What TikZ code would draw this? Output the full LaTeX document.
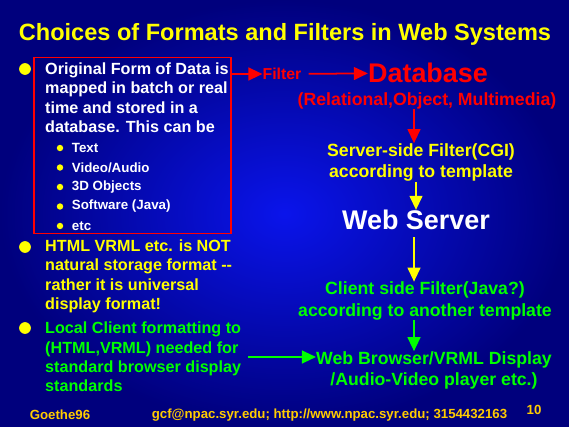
\documentclass[tikz,border=0pt]{standalone}
\usepackage{fontspec}
\setmainfont{Liberation Sans}
\usetikzlibrary{positioning,arrows.meta}
\definecolor{bgdark}{RGB}{0,0,125}
\definecolor{bgbright}{RGB}{10,20,235}
\definecolor{slideyellow}{RGB}{255,255,0}
\definecolor{slidered}{RGB}{255,0,0}
\definecolor{slidegreen}{RGB}{0,255,0}
\definecolor{footeryellow}{RGB}{255,204,0}
\tikzset{
  bigdot/.style={
    shape = circle,
    fill = slideyellow,
    inner sep = 0pt,
    minimum size = 10pt
  },
  subdot/.style={
    shape = circle,
    fill = slideyellow,
    inner sep = 0pt,
    minimum size = 5.5pt
  },
  bodytext/.style={
    anchor = west,
    align = left,
    inner sep = 0pt,
    font = \bfseries\fontsize{13.8}{16.6}\selectfont
  },
  subtext/.style={
    anchor = west,
    inner sep = 0pt,
    text = white,
    font = \bfseries\fontsize{11.4}{13}\selectfont
  },
  flowtext/.style={
    align = center,
    inner sep = 0pt,
    font = \bfseries\fontsize{15.1}{18.5}\selectfont
  },
  bigtext/.style={
    inner sep = 0pt,
    font = \bfseries\fontsize{23}{26}\selectfont
  },
  foottext/.style={
    inner sep = 0pt,
    text = footeryellow,
    font = \bfseries\fontsize{11.3}{13}\selectfont
  },
  flowarrow/.style={
    line width = 1.5pt,
    -{Triangle[length=12pt,width=11pt]}
  }
}
\begin{document}
\begin{tikzpicture}[x=0.03cm,y=-0.03cm]
        \shade[inner color=bgbright, outer color=bgdark] (0,0) rectangle (569,427);
        \useasboundingbox (0,0) rectangle (569,427);
        % title
        \node[inner sep=0pt, text=slideyellow, font=\bfseries\fontsize{20.1}{24}\selectfont] (title) at (285,34.5) {Choices of Formats and Filters in Web Systems};
        % left column
        \node[bigdot] (b1) at (25,69) {};
        \node[bodytext, text=white] (origtext) at (45,97.5) {Original Form of Data is\\mapped in batch or real\\time and stored in a\\database. This can be};
        \foreach \i/\t in {0/Text,1/{Video/Audio},2/3D Objects,3/Software (Java),4/etc}{
                \node[subdot] (d\i) at (60,148+19.5*\i) {};
                \node[subtext, right=7pt of d\i] (s\i) {\t};
            }
        \node[draw=slidered, line width=1.6pt, inner sep=0pt, minimum width=197*0.03cm, minimum height=176*0.03cm] (databox) at (132.5,145.5) {};
        \node[bigdot] (b2) at (25,247) {};
        \node[bodytext, text=slideyellow] (htmltext) at (45,276.5) {HTML VRML etc. is NOT\\natural storage format -{}-\\rather it is universal\\display format!};
        \node[bigdot] (b3) at (25,328) {};
        \node[bodytext, text=slidegreen] (localtext) at (45,357) {Local Client formatting to\\(HTML,VRML) needed for\\standard browser display\\standards};
        % flow on the right
        \node[inner sep=0pt, text=slidered, font=\bfseries\fontsize{13.5}{16}\selectfont] (filter) at (282,74) {Filter};
        \node[bigtext, text=slidered] (database) at (428,73) {Database};
        \node[flowtext, text=slidered] (dbkinds) at (427,101) {(Relational,Object, Multimedia)};
        \node[flowtext, text=slideyellow] (serverfilter) at (421,162.5) {Server-side Filter(CGI)\\according to template};
        \node[bigtext, text=white] (webserver) at (416,220) {Web Server};
        \node[flowtext, text=slidegreen] (clientfilter) at (425,301) {Client side Filter(Java?)\\according to another template};
        \node[flowtext, text=slidegreen] (browser) at (434,370.5) {Web Browser/VRML Display\\/Audio-Video player etc.)};
        \coordinate (boxout) at (databox.east |- filter);
        \coordinate (localout) at (248,357);
        \draw[flowarrow, slidered] (boxout) -- (filter);
        \draw[flowarrow, slidered, shorten <=6pt] (filter) -- (database);
        \draw[flowarrow, slidered] (dbkinds.south -| 414,0) -- (serverfilter.north -| 414,0);
        \draw[flowarrow, slideyellow] (serverfilter.south -| 416,0) -- (webserver.north -| 416,0);
        \draw[flowarrow, slideyellow, shorten <=6pt] (webserver.south -| 414,0) -- (clientfilter.north -| 414,0);
        \draw[flowarrow, slidegreen] (clientfilter.south -| 414,0) -- (browser.north -| 414,0);
        \draw[flowarrow, slidegreen] (localout) -- (browser.west |- localout);
        % footer
        \node[foottext] (goethe) at (60,415) {Goethe96};
        \node[foottext] (contact) at (329.5,415) {gcf@npac.syr.edu; http://www.npac.syr.edu; 3154432163};
        \node[foottext] (pagenum) at (534,410) {10};
    \end{tikzpicture}
\end{document}
